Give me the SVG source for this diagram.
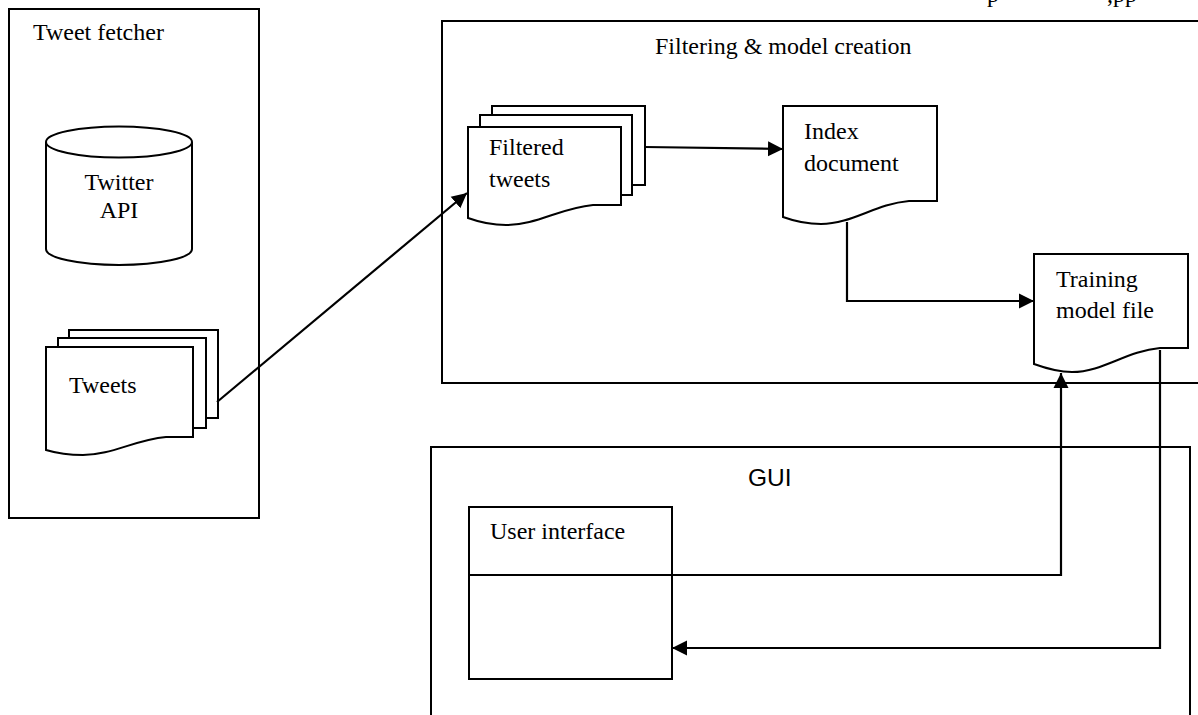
<svg xmlns="http://www.w3.org/2000/svg" width="1198" height="715" viewBox="0 0 1198 715">
<style>
.box{fill:none;stroke:#000;stroke-width:2}
.shape{fill:#fff;stroke:#000;stroke-width:2;stroke-linejoin:miter}
.t{font-family:"Liberation Serif","Times New Roman",serif;font-size:24px;fill:#000}
.s{font-family:"Liberation Sans",Arial,sans-serif;font-size:24.5px;fill:#000}
.c{fill:none;stroke:#000;stroke-width:2.2}
</style>
<defs>
<marker id="ah" markerUnits="userSpaceOnUse" markerWidth="16" markerHeight="16" viewBox="0 0 16 16" refX="15" refY="8" orient="auto">
<path d="M0,0.5 L15,8 L0,15.5 Z" fill="#000"/>
</marker>
</defs>
<rect width="1198" height="715" fill="#fff"/>
<g id="header">
<text class="t" x="987" y="2">p</text>
<text class="t" x="1107" y="2">,pp</text>
</g>
<g id="tweet-fetcher">
<rect class="box" x="9" y="9" width="250" height="509"/>
<text class="t" x="33" y="40">Tweet fetcher</text>
</g>
<g id="twitter-api">
<path class="shape" d="M46,142 V249 A73,16 0 0 0 192,249 V142"/>
<ellipse class="shape" cx="119" cy="142" rx="73" ry="15.5"/>
<text class="t" x="119" y="190" text-anchor="middle">Twitter</text>
<text class="t" x="119" y="218" text-anchor="middle">API</text>
</g>
<g id="tweets">
<rect class="shape" x="69" y="330" width="149" height="88"/>
<rect class="shape" x="58" y="338" width="148" height="90"/>
<path class="shape" d="M46,347 H193 V437 H166 C134,440 112,455 83,455 C68,455 56,453 46,450 Z"/>
<text class="t" x="69" y="393">Tweets</text>
</g>
<g id="filtering">
<rect class="box" x="442" y="21" width="800" height="362"/>
<text class="t" x="655" y="54">Filtering &amp; model creation</text>
</g>
<g id="filtered-tweets">
<rect class="shape" x="492" y="106" width="153" height="79"/>
<rect class="shape" x="480" y="115" width="152" height="80"/>
<path class="shape" d="M468,127 H621 V205 H593 C560,208 537,225 506,225 C491,225 479,222 468,218 Z"/>
<text class="t" x="489" y="155">Filtered</text>
<text class="t" x="489" y="187">tweets</text>
</g>
<g id="index-document">
<path class="shape" d="M783,106 H937 V201 H909 C875,204 852,224 821,224 C806,224 794,221 783,217 Z"/>
<text class="t" x="804" y="139">Index</text>
<text class="t" x="804" y="171">document</text>
</g>
<g id="training-model">
<path class="shape" d="M1034,254 H1188 V348 H1160 C1126,351 1103,372 1072,372 C1057,372 1045,368 1034,364 Z"/>
<text class="t" x="1056" y="287">Training</text>
<text class="t" x="1056" y="318">model file</text>
</g>
<g id="gui">
<rect class="box" x="431" y="447" width="759" height="300"/>
<text class="s" x="748" y="486">GUI</text>
</g>
<g id="user-interface">
<rect class="shape" x="469" y="507" width="203" height="172"/>
<line class="c" x1="469" y1="575" x2="672" y2="575"/>
<text class="t" x="490" y="539">User interface</text>
</g>
<g id="connectors">
<line class="c" x1="217" y1="402" x2="467" y2="193" marker-end="url(#ah)"/>
<line class="c" x1="645" y1="147" x2="783" y2="149" marker-end="url(#ah)"/>
<polyline class="c" points="847,222 847,301 1034,301" marker-end="url(#ah)"/>
<polyline class="c" points="672,575 1061,575 1061,373" marker-end="url(#ah)"/>
<polyline class="c" points="1160,350 1160,648 672,648" marker-end="url(#ah)"/>
</g>
</svg>
